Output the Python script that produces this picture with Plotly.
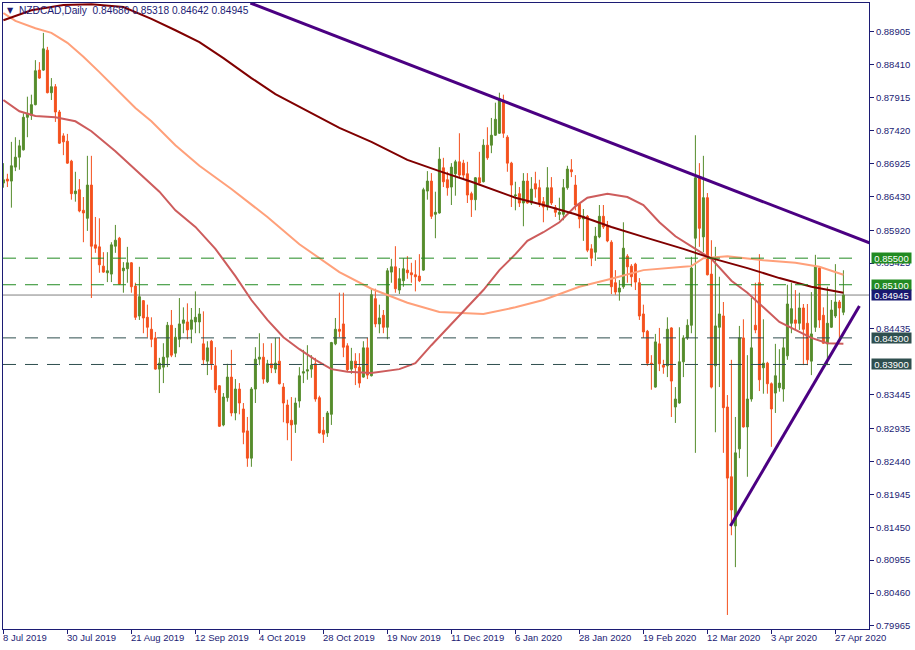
import plotly.graph_objects as go

# ---------------- data ----------------
tick_labels = ["8 Jul 2019", "30 Jul 2019", "21 Aug 2019", "12 Sep 2019", "4 Oct 2019",
               "28 Oct 2019", "19 Nov 2019", "11 Dec 2019", "6 Jan 2020", "28 Jan 2020",
               "19 Feb 2020", "12 Mar 2020", "3 Apr 2020", "27 Apr 2020"]
tick_bars = [0, 16, 32, 48, 64, 80, 96, 112, 128, 144, 160, 176, 192, 208]

price_ticks = [0.88905, 0.88410, 0.87915, 0.87420, 0.86925, 0.86430, 0.85920, 0.85425,
               0.84435, 0.83445, 0.82935, 0.82440, 0.81945, 0.81450, 0.80955, 0.80460, 0.79965]

opens = [0.8663, 0.8669, 0.8666, 0.8687, 0.8702, 0.8713, 0.8762, 0.8765, 0.8781, 0.8833,
         0.8833, 0.8863, 0.8799, 0.8808, 0.8770, 0.8734, 0.8726, 0.8696, 0.8647, 0.8653,
         0.8622, 0.8610, 0.8660, 0.8570, 0.8567, 0.8538, 0.8528, 0.8526, 0.8568, 0.8580,
         0.8531, 0.8534, 0.8543, 0.8508, 0.8463, 0.8486, 0.8461, 0.8443, 0.8430, 0.8383,
         0.8386, 0.8401, 0.8449, 0.8407, 0.8428, 0.8452, 0.8454, 0.8443, 0.8454, 0.8454,
         0.8421, 0.8395, 0.8425, 0.8388, 0.8358, 0.8299, 0.8340, 0.8371, 0.8317, 0.8353,
         0.8323, 0.8290, 0.8249, 0.8353, 0.8398, 0.8401, 0.8364, 0.8391, 0.8383, 0.8395,
         0.8356, 0.8329, 0.8306, 0.8300, 0.8335, 0.8377, 0.8380, 0.8383, 0.8391, 0.8340,
         0.8291, 0.8287, 0.8315, 0.8421, 0.8443, 0.8451, 0.8418, 0.8383, 0.8395, 0.8386,
         0.8371, 0.8415, 0.8373, 0.8489, 0.8451, 0.8464, 0.8446, 0.8529, 0.8537, 0.8502,
         0.8516, 0.8532, 0.8528, 0.8525, 0.8523, 0.8532, 0.8651, 0.8666, 0.8616, 0.8618,
         0.8686, 0.8668, 0.8657, 0.8677, 0.8695, 0.8693, 0.8677, 0.8647, 0.8638, 0.8671,
         0.8665, 0.8720, 0.8720, 0.8735, 0.8738, 0.8788, 0.8732, 0.8693, 0.8644, 0.8647,
         0.8633, 0.8666, 0.8633, 0.8662, 0.8656, 0.8635, 0.8627, 0.8656, 0.8626, 0.8616,
         0.8616, 0.8656, 0.8683, 0.8660, 0.8632, 0.8609, 0.8613, 0.8564, 0.8559, 0.8582,
         0.8613, 0.8598, 0.8574, 0.8513, 0.8499, 0.8507, 0.8553, 0.8538, 0.8541, 0.8513,
         0.8466, 0.8440, 0.8392, 0.8356, 0.8421, 0.8389, 0.8388, 0.8445, 0.8326, 0.8332,
         0.8394, 0.8430, 0.8449, 0.8580, 0.8671, 0.8582, 0.8641, 0.8526, 0.8388, 0.8446,
         0.8463, 0.8326, 0.8221, 0.8147, 0.8263, 0.8430, 0.8296, 0.8338, 0.8449, 0.8513,
         0.8385, 0.8392, 0.8361, 0.8347, 0.8355, 0.8353, 0.8403, 0.8452, 0.8457, 0.8452,
         0.8475, 0.8452, 0.8395, 0.8446, 0.8535, 0.8464, 0.8421, 0.8446, 0.8463, 0.8484,
         0.84686]

highs = [0.8693, 0.8677, 0.8725, 0.8732, 0.8728, 0.8768, 0.8793, 0.8796, 0.8848, 0.8845,
         0.8889, 0.8868, 0.8821, 0.8812, 0.8773, 0.8738, 0.8737, 0.8698, 0.8680, 0.8669,
         0.8642, 0.8704, 0.8704, 0.8612, 0.8610, 0.8559, 0.8559, 0.8574, 0.8600, 0.8582,
         0.8544, 0.8567, 0.8544, 0.8513, 0.8537, 0.8487, 0.8480, 0.8461, 0.8439, 0.8400,
         0.8422, 0.8454, 0.8472, 0.8445, 0.8490, 0.8476, 0.8482, 0.8475, 0.8500, 0.8475,
         0.8470, 0.8425, 0.8427, 0.8416, 0.8359, 0.8347, 0.8391, 0.8412, 0.8368, 0.8362,
         0.8332, 0.8311, 0.8356, 0.8416, 0.8437, 0.8422, 0.8397, 0.8422, 0.8430, 0.8430,
         0.8362, 0.8337, 0.8341, 0.8340, 0.8386, 0.8412, 0.8419, 0.8404, 0.8400, 0.8343,
         0.8311, 0.8320, 0.8424, 0.8460, 0.8498, 0.8498, 0.8422, 0.8415, 0.8407, 0.8407,
         0.8425, 0.8430, 0.8504, 0.8504, 0.8480, 0.8472, 0.8535, 0.8549, 0.8568, 0.8535,
         0.8550, 0.8553, 0.8543, 0.8547, 0.8556, 0.8656, 0.8681, 0.8678, 0.8650, 0.8717,
         0.8701, 0.8680, 0.8693, 0.8698, 0.8738, 0.8698, 0.8695, 0.8650, 0.8672, 0.8710,
         0.8729, 0.8747, 0.8761, 0.8784, 0.8799, 0.8796, 0.8735, 0.8695, 0.8665, 0.8657,
         0.8678, 0.8678, 0.8672, 0.8680, 0.8668, 0.8642, 0.8687, 0.8672, 0.8630, 0.8641,
         0.8669, 0.8689, 0.8699, 0.8675, 0.8633, 0.8624, 0.8615, 0.8571, 0.8597, 0.8630,
         0.8630, 0.8606, 0.8577, 0.8532, 0.8517, 0.8604, 0.8556, 0.8541, 0.8543, 0.8520,
         0.8480, 0.8442, 0.8404, 0.8436, 0.8445, 0.8397, 0.8461, 0.8446, 0.8356, 0.8446,
         0.8434, 0.8458, 0.8552, 0.8735, 0.8693, 0.8704, 0.8648, 0.8577, 0.8567, 0.8522,
         0.8484, 0.8344, 0.8397, 0.8311, 0.8448, 0.8458, 0.8404, 0.8490, 0.8513, 0.8556,
         0.8458, 0.8394, 0.8363, 0.8421, 0.8413, 0.8430, 0.8510, 0.8513, 0.8502, 0.8498,
         0.8481, 0.8481, 0.8499, 0.8555, 0.8537, 0.8476, 0.8507, 0.8487, 0.8541, 0.8487,
         0.85318]

lows = [0.8656, 0.8657, 0.8626, 0.8681, 0.8683, 0.8712, 0.8732, 0.8758, 0.8780, 0.8820,
        0.8832, 0.8798, 0.8788, 0.8755, 0.8722, 0.8705, 0.8692, 0.8638, 0.8635, 0.8619,
        0.8574, 0.8591, 0.8490, 0.8558, 0.8528, 0.8528, 0.8514, 0.8514, 0.8558, 0.8510,
        0.8498, 0.8513, 0.8498, 0.8457, 0.8457, 0.8437, 0.8431, 0.8416, 0.8382, 0.8347,
        0.8362, 0.8386, 0.8401, 0.8401, 0.8416, 0.8437, 0.8428, 0.8422, 0.8437, 0.8437,
        0.8389, 0.8374, 0.8382, 0.8347, 0.8296, 0.8297, 0.8334, 0.8312, 0.8306, 0.8315,
        0.8270, 0.8236, 0.8236, 0.8332, 0.8389, 0.8361, 0.8362, 0.8377, 0.8377, 0.8360,
        0.8303, 0.8276, 0.8245, 0.8287, 0.8325, 0.8362, 0.8367, 0.8370, 0.8334, 0.8286,
        0.8272, 0.8281, 0.8299, 0.8419, 0.8431, 0.8401, 0.8380, 0.8376, 0.8359, 0.8355,
        0.8370, 0.8368, 0.8372, 0.8446, 0.8437, 0.8437, 0.8428, 0.8513, 0.8498, 0.8496,
        0.8507, 0.8519, 0.8513, 0.8500, 0.8514, 0.8531, 0.8638, 0.8609, 0.8580, 0.8617,
        0.8657, 0.8644, 0.8630, 0.8644, 0.8672, 0.8669, 0.8633, 0.8612, 0.8622, 0.8662,
        0.8664, 0.8698, 0.8708, 0.8734, 0.8737, 0.8731, 0.8680, 0.8627, 0.8622, 0.8627,
        0.8598, 0.8632, 0.8630, 0.8641, 0.8627, 0.8604, 0.8622, 0.8630, 0.8612, 0.8607,
        0.8607, 0.8653, 0.8672, 0.8622, 0.8595, 0.8576, 0.8559, 0.8538, 0.8546, 0.8580,
        0.8594, 0.8574, 0.8496, 0.8495, 0.8486, 0.8504, 0.8513, 0.8507, 0.8502, 0.8457,
        0.8430, 0.8388, 0.8352, 0.8355, 0.8380, 0.8376, 0.8371, 0.8311, 0.8302, 0.8331,
        0.8371, 0.8427, 0.8437, 0.8257, 0.8567, 0.8559, 0.8524, 0.8354, 0.8288, 0.8356,
        0.8257, 0.8013, 0.8133, 0.8085, 0.8249, 0.8295, 0.8221, 0.8334, 0.8437, 0.8350,
        0.8346, 0.8346, 0.8266, 0.8317, 0.8349, 0.8334, 0.8397, 0.8437, 0.8442, 0.8442,
        0.8389, 0.8389, 0.8374, 0.8439, 0.8445, 0.8421, 0.8389, 0.8445, 0.8460, 0.8424,
        0.84642]

closes = [0.8668, 0.8666, 0.8689, 0.8702, 0.8719, 0.8762, 0.8768, 0.8781, 0.8832, 0.8821,
          0.8865, 0.8799, 0.8808, 0.8770, 0.8723, 0.8725, 0.8693, 0.8647, 0.8651, 0.8621,
          0.8618, 0.8660, 0.8568, 0.8565, 0.8540, 0.8529, 0.8531, 0.8570, 0.8577, 0.8511,
          0.8535, 0.8543, 0.8507, 0.8461, 0.8492, 0.8460, 0.8446, 0.8428, 0.8383, 0.8392,
          0.8401, 0.8449, 0.8404, 0.8431, 0.8451, 0.8457, 0.8442, 0.8457, 0.8461, 0.8466,
          0.8397, 0.8415, 0.8391, 0.8352, 0.8297, 0.8341, 0.8371, 0.8317, 0.8353, 0.8332,
          0.8288, 0.8249, 0.8353, 0.8398, 0.8401, 0.8368, 0.8391, 0.8385, 0.8392, 0.8361,
          0.8332, 0.8302, 0.8299, 0.8332, 0.8373, 0.8379, 0.8382, 0.8389, 0.8338, 0.8287,
          0.8285, 0.8317, 0.8423, 0.8443, 0.8440, 0.8416, 0.8382, 0.8395, 0.8385, 0.8362,
          0.8415, 0.8374, 0.8495, 0.8451, 0.8460, 0.8446, 0.8531, 0.8537, 0.8504, 0.8519,
          0.8534, 0.8528, 0.8525, 0.8522, 0.8516, 0.8653, 0.8666, 0.8613, 0.8619, 0.8699,
          0.8665, 0.8656, 0.8687, 0.8695, 0.8675, 0.8675, 0.8645, 0.8638, 0.8671, 0.8663,
          0.8720, 0.8701, 0.8735, 0.8759, 0.8790, 0.8738, 0.8693, 0.8660, 0.8645, 0.8633,
          0.8666, 0.8633, 0.8654, 0.8654, 0.8633, 0.8627, 0.8656, 0.8633, 0.8619, 0.8619,
          0.8656, 0.8684, 0.8680, 0.8630, 0.8609, 0.8613, 0.8562, 0.8550, 0.8583, 0.8613,
          0.8597, 0.8576, 0.8507, 0.8499, 0.8505, 0.8565, 0.8537, 0.8522, 0.8514, 0.8463,
          0.8439, 0.8392, 0.8391, 0.8424, 0.8391, 0.8386, 0.8443, 0.8365, 0.8338, 0.8394,
          0.8430, 0.8449, 0.8535, 0.8671, 0.8595, 0.8641, 0.8525, 0.8356, 0.8448, 0.8466,
          0.8325, 0.8219, 0.8171, 0.8257, 0.8430, 0.8296, 0.8338, 0.8415, 0.8442, 0.8367,
          0.8392, 0.8361, 0.8323, 0.8373, 0.8362, 0.8415, 0.8481, 0.8474, 0.8452, 0.8475,
          0.8443, 0.8397, 0.8436, 0.8537, 0.8457, 0.8422, 0.8452, 0.8472, 0.8484, 0.8475,
          0.84945]

# moving averages (read at sample bars)
ma_maroon_bar = [0, 7, 15, 22, 30, 37, 43, 49, 55, 62, 68, 74, 84, 92, 101, 109, 117, 128,
                 135, 143, 152, 160, 170, 177, 186, 194, 202, 210]
ma_maroon = [0.8908, 0.8923, 0.8931, 0.8932, 0.8928, 0.8910, 0.8893, 0.8875, 0.8851, 0.8821,
             0.8797, 0.8778, 0.8746, 0.8725, 0.8698, 0.8681, 0.8665, 0.8641, 0.8630, 0.8616,
             0.8597, 0.8582, 0.8564, 0.8550, 0.8535, 0.8520, 0.8507, 0.8498]

ma_salmon_bar = [0, 3, 8, 12, 16, 20, 24, 29, 33, 37, 43, 49, 57, 66, 74, 84, 92, 101, 109,
                 120, 125, 128, 135, 144, 152, 160, 170, 172, 175, 181, 190, 198, 204, 210]
ma_salmon = [0.8919, 0.8907, 0.8896, 0.8889, 0.8874, 0.8853, 0.8830, 0.8800, 0.8776, 0.8756,
             0.8720, 0.8689, 0.8654, 0.8612, 0.8571, 0.8529, 0.8504, 0.8483, 0.8469, 0.8466,
             0.8472, 0.8476, 0.8487, 0.8507, 0.8519, 0.8532, 0.8537, 0.8538, 0.8550, 0.8553,
             0.8547, 0.8543, 0.8537, 0.8525]

ma_red_bar = [0, 4, 8, 13, 18, 22, 28, 34, 39, 43, 48, 53, 58, 62, 66, 70, 74, 78, 82, 86,
              92, 99, 103, 107, 111, 116, 120, 124, 128, 131, 135, 139, 143, 146, 151, 156,
              160, 164, 168, 173, 177, 182, 186, 190, 194, 198, 202, 206, 210]
ma_red = [0.8788, 0.8771, 0.8764, 0.8762, 0.8756, 0.8741, 0.8711, 0.8677, 0.8650, 0.8622,
          0.8597, 0.8564, 0.8523, 0.8487, 0.8457, 0.8431, 0.8413, 0.8397, 0.8383, 0.8379,
          0.8377, 0.8383, 0.8392, 0.8419, 0.8445, 0.8476, 0.8502, 0.8532, 0.8556, 0.8576,
          0.8589, 0.8604, 0.8628, 0.8641, 0.8647, 0.8642, 0.8630, 0.8604, 0.8583, 0.8564,
          0.8549, 0.8516, 0.8498, 0.8476, 0.8454, 0.8442, 0.8430, 0.8422, 0.8421]

# trend lines and horizontal levels
upper_trend_bar = [61.75, 216.5]
upper_trend = [0.8934, 0.8573]
lower_trend_bar = [181.75, 214]
lower_trend = [0.8147, 0.8478]

green_levels = [0.85500, 0.85100]
slate_levels = [0.84300, 0.83900]
bid_level = 0.84945
title_text = "NZDCAD,Daily\u00a0\u00a00.84686 0.85318 0.84642 0.84945"

# ---------------- styling ----------------
NAVY = "#1C1C74"
GREEN_C = "#568C2C"
RED_C = "#F4511E"
FONT = "Liberation Sans, Arial, sans-serif"
FS = 9.5

bars = list(range(len(closes)))

fig = go.Figure()

fig.add_trace(go.Candlestick(
    x=bars, open=opens, high=highs, low=lows, close=closes,
    increasing=dict(line=dict(color=GREEN_C, width=1), fillcolor=GREEN_C),
    decreasing=dict(line=dict(color=RED_C, width=1), fillcolor=RED_C),
    whiskerwidth=0, showlegend=False, hoverinfo="skip"))

fig.add_trace(go.Scatter(x=ma_salmon_bar, y=ma_salmon, mode="lines",
                         line=dict(color="#FFA07A", width=2), showlegend=False, hoverinfo="skip"))
fig.add_trace(go.Scatter(x=ma_red_bar, y=ma_red, mode="lines",
                         line=dict(color="#CD5C5C", width=2), showlegend=False, hoverinfo="skip"))
fig.add_trace(go.Scatter(x=ma_maroon_bar, y=ma_maroon, mode="lines",
                         line=dict(color="#800000", width=2), showlegend=False, hoverinfo="skip"))

fig.add_trace(go.Scatter(x=upper_trend_bar, y=upper_trend, mode="lines",
                         line=dict(color="#4B0082", width=3), showlegend=False, hoverinfo="skip"))
fig.add_trace(go.Scatter(x=lower_trend_bar, y=lower_trend, mode="lines",
                         line=dict(color="#4B0082", width=3), showlegend=False, hoverinfo="skip"))

shapes = []
for lv in green_levels:
    shapes.append(dict(type="line", xref="paper", yref="y", x0=0, x1=0.99, y0=lv, y1=lv,
                       line=dict(color="#228B22", width=1, dash="13px,9px"), layer="above"))
for lv in slate_levels:
    shapes.append(dict(type="line", xref="paper", yref="y", x0=0, x1=0.99, y0=lv, y1=lv,
                       line=dict(color="#2F4F4F", width=1, dash="13px,9px"), layer="above"))
shapes.append(dict(type="line", xref="paper", yref="y", x0=0, x1=1, y0=bid_level, y1=bid_level,
                   line=dict(color="#808080", width=1), layer="below"))

annotations = []
# x-axis labels (left aligned at tick, like MT4)
for b, lab in zip(tick_bars, tick_labels):
    annotations.append(dict(x=b, xref="x", y=0, yref="paper", yanchor="top", xanchor="left",
                            yshift=-1, xshift=-2, text=lab, showarrow=False,
                            font=dict(family=FONT, size=FS, color=NAVY)))
# price boxes on the right axis
box_x = (871 - 3) / 866
for lv, col in [(green_levels[0], "#228B22"), (green_levels[1], "#228B22"),
                (bid_level, "#191970"), (slate_levels[0], "#2F4F4F"), (slate_levels[1], "#2F4F4F")]:
    annotations.append(dict(x=box_x, xref="paper", y=lv, yref="y", xanchor="left", yanchor="middle",
                            text="%.5f" % lv, showarrow=False, bgcolor=col, width=39, height=10,
                            borderpad=0, align="center",
                            font=dict(family=FONT, size=FS, color="white")))
# title
annotations.append(dict(x=(17 - 3) / 866, xref="paper", y=1, yref="paper", xanchor="left",
                        yanchor="top", yshift=0, text=title_text, showarrow=False,
                        font=dict(family=FONT, size=10.2, color=NAVY)))
annotations.append(dict(x=(5 - 3) / 866, xref="paper", y=1, yref="paper", xanchor="left",
                        yanchor="top", yshift=-1, text="\u25BC", showarrow=False,
                        font=dict(family="DejaVu Sans, sans-serif", size=8, color=NAVY)))

fig.update_layout(
    width=915, height=650,
    margin=dict(l=3, r=46, t=3, b=21, pad=0),
    paper_bgcolor="white", plot_bgcolor="white",
    showlegend=False,
    shapes=shapes, annotations=annotations,
    font=dict(family=FONT, size=FS, color=NAVY),
    xaxis=dict(range=[-0.1, 216.4], showgrid=False, zeroline=False, showline=True, mirror=True,
               linecolor=NAVY, linewidth=1, ticks="outside", ticklen=4, tickcolor=NAVY,
               tickvals=tick_bars, showticklabels=False, rangeslider=dict(visible=False),
               fixedrange=True),
    yaxis=dict(range=[0.79919, 0.89340], side="right", showgrid=False, zeroline=False,
               showline=True, mirror=True, linecolor=NAVY, linewidth=1, ticks="outside",
               ticklen=4, tickcolor=NAVY, tickvals=price_ticks,
               ticktext=["%.5f" % v for v in price_ticks],
               tickfont=dict(family=FONT, size=FS, color=NAVY), fixedrange=True),
)

fig.write_html("out.html", config={"displayModeBar": False},
               post_script="document.body.style.margin='0';document.body.style.overflow='hidden';")
